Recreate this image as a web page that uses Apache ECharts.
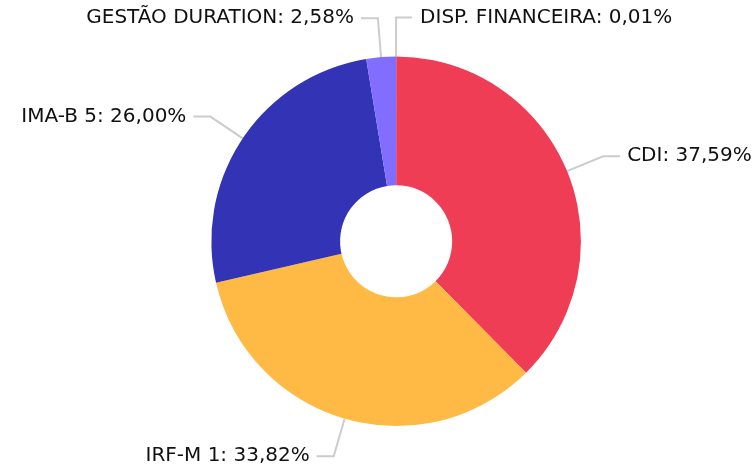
<!DOCTYPE html>
<html>
<head>
<meta charset="utf-8">
<script src="https://cdn.jsdelivr.net/npm/echarts@6/dist/echarts.min.js"></script>
<style>
  html, body { margin: 0; padding: 0; background: #fff; }
  #chart { width: 756px; height: 475px; }
</style>
</head>
<body>
<div id="chart"></div>
<script>
var categories = ['CDI', 'IRF-M 1', 'IMA-B 5', 'GESTÃO DURATION', 'DISP. FINANCEIRA'];
var values = [37.59, 33.82, 26.00, 2.58, 0.01];
var colors = ['#EF3D55', '#FFBA45', '#3333B5', '#816DFF', '#5AC8FA'];

var myChart = echarts.init(document.getElementById('chart'));

var pieData = categories.map(function (name, i) {
    return { name: name, value: values[i], itemStyle: { color: colors[i] } };
});

var option = {
    animation: false,
    series: [
        {
            type: 'pie',
            center: ['52.4%', '50.8%'],
            radius: ['23.6%', '77.8%'],
            startAngle: 90,
            avoidLabelOverlap: false,
            data: pieData,
            label: {
                color: '#111',
                fontSize: 20,
                fontFamily: 'DejaVu Sans',
                distanceToLabelLine: 7,
                padding: [6, 0, 0, 0],
                formatter: function (p) {
                    return p.name + ': ' + p.value.toFixed(2).replace('.', ',') + '%';
                }
            },
            labelLine: {
                length: 39,
                length2: 17,
                lineStyle: { color: '#cccccc', width: 2 }
            },
            // last (tiny) slice: turn its label to the right so it sits beside its neighbour
            labelLayout: function (params) {
                if (params.dataIndex !== categories.length - 1) {
                    return {};
                }
                var pts = params.labelLinePoints;
                var p0 = pts[0];
                var p1 = [p0[0], pts[1][1]];
                var p2 = [p0[0] + 16, p1[1]];
                return {
                    x: p2[0] + 8,
                    y: p1[1],
                    align: 'left',
                    verticalAlign: 'middle',
                    labelLinePoints: [p0, p1, p2]
                };
            }
        }
    ]
};

myChart.setOption(option);
</script>
</body>
</html>
